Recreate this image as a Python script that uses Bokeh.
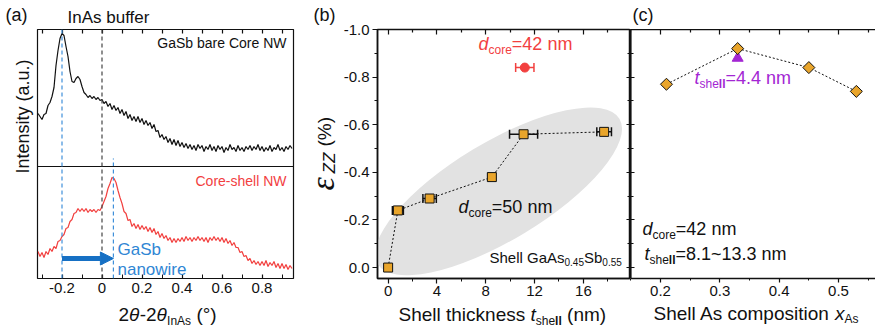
import math
from bokeh.plotting import figure
from bokeh.layouts import row, column
from bokeh.models import (Range1d, LinearAxis, FixedTicker, Label, Span, Arrow,
                          NormalHead)
from bokeh.embed import file_html
from bokeh.resources import INLINE

FONT = "Liberation Sans"
INK = "#111111"
RED = "#F2403F"
BLUE_LINE = "#3F8FDA"
BLUE_ARROW = "#1670C4"
BLUE_TEXT = "#2F86D4"
ORANGE = "#E9A52B"
PURPLE = "#A326D3"
SHADE = "#E2E2E2"

# ---------------- (a) XRD scans, 2θ-2θ_InAs (deg), 0.01 deg step ----------------
scan_start = -0.32
scan_step = 0.01
core_nw_counts = [
    53, 50, 47, 52, 53, 61, 64, 70, 79, 101,
    116, 128, 133, 131, 120, 110, 95, 85, 84, 88,
    90, 87, 80, 74, 72, 69, 71, 68, 70, 67,
    69, 66, 67, 63, 65, 60, 63, 57, 61, 56,
    59, 53, 57, 51, 55, 48, 52, 46, 50, 45,
    50, 44, 48, 42, 46, 41, 44, 38, 42, 35,
    36, 29, 32, 27, 30, 24, 28, 22, 27, 21,
    26, 20, 24, 19, 23, 18, 22, 17, 21, 16,
    22, 18, 21, 15, 20, 17, 22, 16, 20, 15,
    21, 17, 20, 14, 19, 16, 22, 17, 19, 15,
    21, 16, 19, 15, 20, 17, 21, 16, 20, 17,
    22, 16, 20, 15, 19, 16, 21, 15, 19, 17,
    22, 16, 19, 15, 20, 17, 21, 18,
]
shell_nw_counts = [
    27, 22, 26, 21, 27, 24, 30, 27, 32, 30,
    37, 38, 42, 44, 50, 51, 57, 59, 65, 66,
    70, 67, 70, 67, 70, 66, 69, 67, 69, 66,
    69, 68, 72, 77, 82, 90, 95, 101, 100, 96,
    88, 81, 75, 67, 65, 58, 59, 52, 55, 50,
    54, 49, 53, 49, 52, 47, 51, 46, 50, 44,
    47, 41, 45, 40, 43, 38, 41, 36, 40, 36,
    40, 37, 41, 37, 42, 38, 41, 37, 41, 38,
    42, 38, 41, 37, 41, 36, 41, 38, 42, 38,
    41, 37, 41, 36, 40, 35, 38, 33, 36, 31,
    31, 26, 27, 22, 23, 18, 20, 15, 18, 14,
    17, 13, 17, 13, 18, 12, 16, 13, 17, 11,
    15, 10, 15, 10, 14, 9, 13, 10,
]
stack_offset = 112          # upper trace sits above the divider
peak_core = -0.2            # GaSb core peak
peak_shell = 0.057          # GaSb peak in the core-shell wire
peak_inas = 0.0             # InAs buffer reference
xrd_ticks = [-0.2, 0.0, 0.2, 0.4, 0.6, 0.8]
xrd_minor = [-0.3, -0.1, 0.1, 0.3, 0.5, 0.7, 0.9]
xrd_tick_labels = ["-0.2", "0", "0.2", "0.4", "0.6", "0.8"]

# ---------------- (b) strain vs shell thickness ----------------
t_shell = [0.0, 0.8, 3.4, 8.5, 11.1, 17.7]
eps_zz_d50 = [0.0, -0.24, -0.29, -0.38, -0.56, -0.57]
t_shell_err = [0.0, 0.45, 0.55, 0.3, 1.15, 0.6]
t_shell_d42 = [11.2]
eps_zz_d42 = [-0.84]
t_shell_d42_err = [0.75]
thick_ticks = [0, 4, 8, 12, 16]
thick_minor = [2, 6, 10, 14, 18]
thick_tick_labels = ["0", "4", "8", "12", "16"]
eps_ticks = [-1.0, -0.8, -0.6, -0.4, -0.2, 0.0]
eps_minor = [-0.9, -0.7, -0.5, -0.3, -0.1]
eps_tick_labels = ["-1.0", "-0.8", "-0.6", "-0.4", "-0.2", "0.0"]

# ---------------- (c) strain vs shell As composition ----------------
x_as = [0.21, 0.33, 0.45, 0.53]
eps_zz_xas = [-0.77, -0.92, -0.84, -0.74]
x_as_thin = [0.33]
eps_zz_thin = [-0.88]
comp_ticks = [0.2, 0.3, 0.4, 0.5]
comp_minor = [0.15, 0.25, 0.35, 0.45, 0.55]
comp_tick_labels = ["0.2", "0.3", "0.4", "0.5"]

# ---------------- text helpers ----------------
ARIAL = {" ": 278, "(": 333, ")": 333, "%": 889, "-": 333, ".": 278, "=": 584,
         "~": 584, "°": 400, "θ": 556, "ε": 520}
ARIAL.update({d: 556 for d in "0123456789"})
ARIAL.update(dict(zip("ABCDEFGHIJKLMNOPQRSTUVWXYZ",
                      [667, 667, 722, 722, 667, 611, 778, 722, 278, 500, 667, 556, 833,
                       722, 778, 667, 778, 722, 667, 611, 722, 667, 944, 667, 667, 611])))
ARIAL.update(dict(zip("abcdefghijklmnopqrstuvwxyz",
                      [556, 556, 500, 556, 556, 278, 556, 556, 222, 222, 500, 222, 833,
                       556, 556, 556, 556, 333, 500, 278, 556, 500, 722, 500, 500, 500])))
ARIAL_BOLD = {"l": 278, "s": 556, "h": 611, "e": 556}
MID = 0.35   # distance from the alphabetic baseline up to the text's middle, in em


def text_width(text, size, style="normal"):
    table = dict(ARIAL)
    if "bold" in style:
        table.update(ARIAL_BOLD)
    return sum(table.get(ch, 556) for ch in text) * size / 1000.0


def _label(fig, origin, bx, by, text, size, style, color, align, angle, font=FONT):
    """bx, by: page pixels of the baseline anchor; origin: page position of the
    figure frame's bottom-left corner."""
    ox, oy = origin
    if angle == 0.0:
        ax, ay = bx, by - MID * size
    else:
        ax, ay = bx - MID * size, by
    fig.add_layout(Label(x=ax - ox, y=oy - ay, x_units="screen", y_units="screen",
                         text=text, angle=angle, text_font=font,
                         text_font_size=f"{size}px", text_font_style=style,
                         text_color=color, text_baseline="middle", text_align=align))


def rich(fig, origin, x, y, parts, color=INK, angle=0.0):
    """A run of text pieces (text, size, style, baseline shift[, font])."""
    pos = 0.0
    for part in parts:
        text, size, style, shift = part[:4]
        font = part[4] if len(part) > 4 else FONT
        lead = len(text) - len(text.lstrip(" "))
        pos += text_width(" " * lead, size, style)
        text = text.lstrip(" ")
        if angle == 0.0:
            px, py = x + pos, y + shift
        else:
            px, py = x + shift, y - pos
        _label(fig, origin, px, py, text, size, style, color, "left", angle, font)
        pos += text_width(text, size, style)


def plain(fig, origin, x, y, text, size, color=INK, align="left", angle=0.0):
    _label(fig, origin, x, y, text, size, "normal", color, align, angle)


def labelled_axis(ax, ticks, minor, labels, tin=0, tout=0, min_in=0, min_out=0,
                  line=True, width=1.5):
    ax.ticker = FixedTicker(ticks=ticks, minor_ticks=minor)
    ax.major_tick_in, ax.major_tick_out = tin, tout
    ax.minor_tick_in, ax.minor_tick_out = min_in, min_out
    ax.major_tick_line_color = INK
    ax.minor_tick_line_color = INK
    ax.major_tick_line_width = 1.2
    ax.minor_tick_line_width = 1.0
    ax.axis_line_color = INK if line else None
    ax.axis_line_width = width
    ax.major_label_overrides = dict(zip(ticks, labels))
    ax.major_label_text_font = FONT
    ax.major_label_text_font_size = "15px"
    ax.major_label_text_color = INK


def tick_only_axis(fig, side, positions, length, line=False, width=1.5):
    """Axis that carries inward tick marks only (no labels)."""
    ax = LinearAxis(ticker=FixedTicker(ticks=[], minor_ticks=positions))
    ax.minor_tick_in, ax.minor_tick_out = length, 0
    ax.major_tick_in, ax.major_tick_out = 0, 0
    ax.minor_tick_line_color = INK
    ax.minor_tick_line_width = 1.2
    ax.major_label_standoff = 0
    ax.axis_line_color = INK if line else None
    ax.axis_line_width = width
    fig.add_layout(ax, side)
    return ax


def base_fig(width, height, xr, yr, left, right, top, **kw):
    p = figure(width=width, height=height, x_range=xr, y_range=yr,
               output_backend="svg", toolbar_location=None,
               min_border_left=left, min_border_right=right,
               min_border_top=top, min_border_bottom=26, **kw)
    p.xgrid.visible = False
    p.ygrid.visible = False
    p.background_fill_color = "white"
    p.border_fill_color = "white"
    return p


def strip(width, height):
    """Blank panel that only carries titles and axis captions."""
    p = figure(width=width, height=height, x_range=Range1d(0, width),
               y_range=Range1d(0, height), output_backend="svg",
               toolbar_location=None, x_axis_location=None, y_axis_location=None,
               min_border_left=0, min_border_right=0, min_border_top=0,
               min_border_bottom=0)
    p.outline_line_color = None
    for g in p.grid:
        g.visible = False
    return p


# caption panels (origin = page position of each panel frame's bottom-left corner;
# the strip under (b) gets its frame lined up with the plot frame above it)
top_a, o_top_a = strip(300, 29), (0, 29)
cap_a, o_cap_a = strip(34, 275), (0, 304)
bottom_a, o_bottom_a = strip(300, 29), (0, 333)
cap_b, o_cap_b = strip(40, 333), (300, 333)
bottom_b, o_bottom_b = strip(290, 29), (376, 333)
top_c, o_top_c = strip(245, 29), (630, 29)
bottom_c, o_bottom_c = strip(245, 29), (630, 333)

# ================= (a) =================
fa = base_fig(266, 275, Range1d(-0.3225, 0.9575), Range1d(0, 249), 3, 7, 0)
oa = (37, 278)
fa.yaxis.visible = False
fa.outline_line_color = INK
fa.outline_line_width = 1.2
labelled_axis(fa.xaxis[0], xrd_ticks, xrd_minor, xrd_tick_labels, tin=4, min_in=4,
              line=False)
fa.xaxis[0].major_label_standoff = 4
tick_only_axis(fa, "above", xrd_ticks + xrd_minor, 4)

scan_x = [round(scan_start + scan_step * i, 3) for i in range(len(core_nw_counts))]
core_y = [c + stack_offset for c in core_nw_counts]
fa.line(scan_x, core_y, line_color=INK, line_width=1.2)
fa.line(scan_x[:len(shell_nw_counts)], shell_nw_counts, line_color=RED, line_width=1.2)

fa.add_layout(Span(location=stack_offset, dimension="width", line_color=INK, line_width=1.2))
fa.add_layout(Span(location=peak_inas, dimension="height", line_color="#444444",
                   line_width=1.2, line_dash="4 3"))
fa.add_layout(Span(location=peak_core, dimension="height", line_color=BLUE_LINE,
                   line_width=1.2, line_dash="4 3"))
fa.segment(x0=[peak_shell], y0=[0], x1=[peak_shell], y1=[stack_offset + 8],
           line_color=BLUE_LINE, line_width=1.2, line_dash="4 3")
arrow_y = 20
fa.add_layout(Arrow(x_start=peak_core, y_start=arrow_y, x_end=peak_shell, y_end=arrow_y,
                    line_color=BLUE_ARROW, line_width=5,
                    end=NormalHead(size=13, fill_color=BLUE_ARROW, line_color=BLUE_ARROW)))

plain(top_a, o_top_a, 5, 21, "(a)", 18)
plain(top_a, o_top_a, 67, 23, "InAs buffer", 17)
plain(fa, oa, 286, 47, "GaSb bare Core NW", 14, align="right")
plain(fa, oa, 286, 185, "Core-shell NW", 14, color=RED, align="right")
plain(fa, oa, 117, 255, "GaSb", 17, color=BLUE_TEXT)
plain(fa, oa, 117, 275, "nanowire", 17, color=BLUE_TEXT)
plain(cap_a, o_cap_a, 29, 142, "Intensity (a.u.)", 18, align="center", angle=math.pi / 2)
rich(bottom_a, o_bottom_a, 118, 321,
     [("2", 19, "normal", 0), ("θ", 19, "italic", 0), ("-2", 19, "normal", 0),
      ("θ", 19, "italic", 0), ("InAs", 12, "normal", 4), (" (°)", 19, "normal", 0)])

# ================= (b) =================
eps_range = Range1d(0.046, -1.0)
fb = base_fig(290, 304, Range1d(-0.87, 19.86), eps_range, 36, 0, 29)
ob = (376, 278)
fb.outline_line_color = INK
fb.outline_line_width = 1.5
labelled_axis(fb.xaxis[0], thick_ticks, thick_minor, thick_tick_labels, tout=5, min_out=3)
labelled_axis(fb.yaxis[0], eps_ticks, eps_minor, eps_tick_labels, tout=5, min_out=3)
fb.xaxis[0].major_label_standoff = 2
fb.yaxis[0].major_label_standoff = 3
tick_only_axis(fb, "above", thick_ticks, 5)
tick_only_axis(fb, "above", thick_minor, 3)
tick_only_axis(fb, "right", eps_ticks, 4)
tick_only_axis(fb, "right", eps_minor, 3)

# shaded guide around the d_core = 50 nm series
fb.ellipse(x=[9.05], y=[-0.32], width=282, height=98, angle=math.radians(31),
           width_units="screen", height_units="screen",
           fill_color=SHADE, line_color=None)

fb.line(t_shell, eps_zz_d50, line_color=INK, line_width=1, line_dash="2 2")
bars = [(t, e, d) for t, e, d in zip(t_shell, eps_zz_d50, t_shell_err) if d > 0]
lo = [t - d for t, e, d in bars]
hi = [t + d for t, e, d in bars]
ys = [e for t, e, d in bars]
fb.segment(x0=lo, y0=ys, x1=hi, y1=ys, line_color=INK, line_width=1.5)
fb.scatter(lo + hi, ys + ys, marker="dash", angle=math.pi / 2, size=9,
           line_color=INK, line_width=1.5)
fb.scatter(t_shell, eps_zz_d50, marker="square", size=9, fill_color=ORANGE,
           line_color=INK, line_width=1)

lo42 = [t - d for t, d in zip(t_shell_d42, t_shell_d42_err)]
hi42 = [t + d for t, d in zip(t_shell_d42, t_shell_d42_err)]
fb.segment(x0=lo42, y0=eps_zz_d42, x1=hi42, y1=eps_zz_d42, line_color=RED, line_width=1.5)
fb.scatter(lo42 + hi42, eps_zz_d42 + eps_zz_d42, marker="dash", angle=math.pi / 2,
           size=9, line_color=RED, line_width=1.5)
fb.scatter(t_shell_d42, eps_zz_d42, marker="circle", size=9, fill_color=RED, line_color=RED)

plain(cap_b, o_cap_b, 313, 21, "(b)", 18)
rich(fb, ob, 477, 50, [("d", 18, "italic", 0), ("core", 12, "normal", 4),
                       ("=42 nm", 18, "normal", 0)], color=RED)
rich(fb, ob, 457, 213, [("d", 18, "italic", 0), ("core", 12, "normal", 4),
                        ("=50 nm", 18, "normal", 0)])
rich(fb, ob, 488, 262, [("Shell GaAs", 15, "normal", 0), ("0.45", 10, "normal", 3),
                        ("Sb", 15, "normal", 0), ("0.55", 10, "normal", 3)])
# strain caption, running upwards
rich(cap_b, o_cap_b, 334, 190, [("ε", 34, "italic", 0, "Liberation Serif")],
     angle=math.pi / 2)
rich(cap_b, o_cap_b, 335, 173, [("ZZ", 17, "italic", 0)], angle=math.pi / 2)
rich(cap_b, o_cap_b, 331, 146, [("(%)", 19, "normal", 0)], angle=math.pi / 2)
rich(bottom_b, o_bottom_b, 397, 321,
     [("Shell thickness ", 19, "normal", 0), ("t", 19, "italic", 0),
      ("she", 12, "normal", 4), ("ll", 12, "bold", 4), (" (nm)", 19, "normal", 0)])

# ================= (c) =================
fc = base_fig(245, 275, Range1d(0.1494, 0.5623), eps_range, 0, 0, 0,
              y_axis_location=None)
oc = (630, 278)
fc.outline_line_color = None
labelled_axis(fc.xaxis[0], comp_ticks, comp_minor, comp_tick_labels, tout=4, min_out=2)
fc.xaxis[0].major_label_standoff = 3
tick_only_axis(fc, "left", eps_ticks, 4, line=True, width=2.2)
tick_only_axis(fc, "left", eps_minor, 3)
tick_only_axis(fc, "above", comp_ticks, 5, line=True)
tick_only_axis(fc, "above", comp_minor, 3)

fc.line(x_as, eps_zz_xas, line_color=INK, line_width=1, line_dash="2 2")
fc.scatter(x_as_thin, eps_zz_thin, marker="triangle", size=11, fill_color=PURPLE,
           line_color=PURPLE)
fc.scatter(x_as, eps_zz_xas, marker="square", angle=math.pi / 4, size=8.5,
           fill_color=ORANGE, line_color=INK, line_width=1)

plain(top_c, o_top_c, 632, 21, "(c)", 18)
rich(fc, oc, 694, 84, [("t", 18, "italic", 0), ("she", 12, "normal", 4),
                       ("ll", 12, "bold", 4), ("=4.4 nm", 18, "normal", 0)], color=PURPLE)
rich(fc, oc, 642, 235, [("d", 18, "italic", 0), ("core", 12, "normal", 4),
                        ("=42 nm", 18, "normal", 0)])
rich(fc, oc, 644, 260, [("t", 18, "italic", 0), ("she", 12, "normal", 4),
                        ("ll", 12, "bold", 4), ("=8.1~13.3 nm", 18, "normal", 0)])
rich(bottom_c, o_bottom_c, 653, 320,
     [("Shell As composition ", 19, "normal", 0), ("x", 19, "italic", 0),
      ("As", 12, "normal", 3)])

layout = row(column(top_a, row(cap_a, fa), bottom_a),
             cap_b,
             column(fb, bottom_b),
             column(top_c, fc, bottom_c))
open("out.html", "w").write(file_html(layout, INLINE))
